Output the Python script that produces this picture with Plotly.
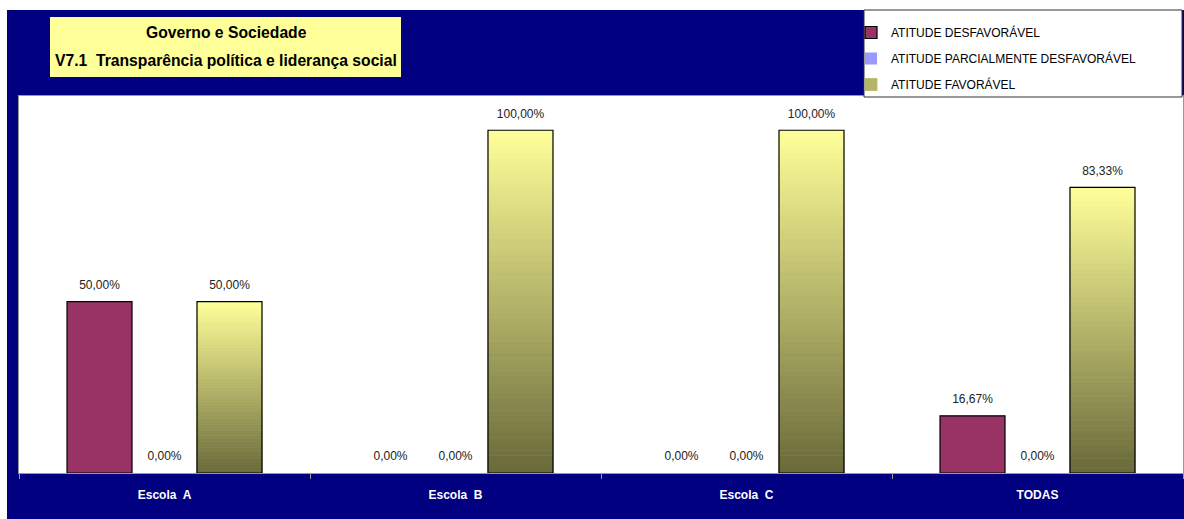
import plotly.graph_objects as go

categories = ["Escola  A", "Escola  B", "Escola  C", "TODAS"]
desfavoravel = [50.00, 0.00, 0.00, 16.67]
parcial = [0.00, 0.00, 0.00, 0.00]
favoravel = [50.00, 100.00, 100.00, 83.33]
series_names = ["ATITUDE DESFAVORÁVEL", "ATITUDE PARCIALMENTE DESFAVORÁVEL", "ATITUDE FAVORÁVEL"]
title_lines = ["Governo e Sociedade", "V7.1  Transparência política e liderança social"]

FONT = "Arial, Liberation Sans, sans-serif"
W, H = 1184, 519
ML, MR, MT, MB = 19, 1, 96, 46
PW, PH = W - ML - MR, H - MT - MB


def px_x(p):
    return (p - ML) / PW


def px_y(p):
    return (H - MB - p) / PH


def fmt(v):
    return f"{v:.2f}".replace(".", ",") + "%"


def edge(vals, w):
    return [w if v > 0 else 0 for v in vals]


LABEL_FONT = dict(family=FONT, size=12, color="#222222")

fig = go.Figure()

fig.add_trace(go.Bar(
    x=categories, y=desfavoravel, name=series_names[0], offsetgroup="a", legendgroup="g1",
    marker=dict(color="#993366", line=dict(color="#000000", width=edge(desfavoravel, 1.2))),
    legendrank=1, hoverinfo="x+y",
))
fig.add_trace(go.Bar(
    x=categories, y=parcial, name=series_names[1], offsetgroup="b", legendgroup="g2",
    marker=dict(color="#9999FF", line=dict(color="#000000", width=edge(parcial, 1.2))),
    legendrank=2, hoverinfo="x+y",
))

# gradient fill for favourable bars (light yellow top -> dark olive bottom)
N = 60
top_c = (255, 255, 153)
bot_c = (105, 105, 58)
for i in range(N):
    t = (i + 0.5) / N
    c = tuple(int(round(bot_c[k] + (top_c[k] - bot_c[k]) * t)) for k in range(3))
    col = f"rgb{c}"
    show = (i == N // 2)
    fig.add_trace(go.Bar(
        x=categories, y=[v / N for v in favoravel], base=[v * i / N for v in favoravel],
        offsetgroup="c", name=series_names[2], showlegend=show, legendrank=3, legendgroup="g3",
        marker=dict(color=col, line=dict(color=col, width=0.8)),
        hoverinfo="skip",
    ))
fig.add_trace(go.Bar(
    x=categories, y=favoravel, offsetgroup="c", showlegend=False, legendgroup="g3",
    marker=dict(color="rgba(0,0,0,0)", line=dict(color="#000000", width=edge(favoravel, 1.2))),
    hoverinfo="x+y",
))

# value labels (grouped scatter so they line up with the bars)
for vals, grp in [(desfavoravel, "a"), (parcial, "b"), (favoravel, "c")]:
    fig.add_trace(go.Scatter(
        x=categories, y=vals, offsetgroup=grp, mode="markers+text",
        marker=dict(size=14, color="rgba(0,0,0,0)"),
        text=[fmt(v) for v in vals], textposition="top center",
        textfont=LABEL_FONT, showlegend=False, cliponaxis=False, hoverinfo="skip",
    ))

shapes = [
    # white outer strips
    dict(type="rect", xref="paper", yref="paper", x0=px_x(-5), x1=px_x(W + 5), y0=px_y(10), y1=px_y(-5),
         fillcolor="white", line=dict(width=0), layer="below"),
    dict(type="rect", xref="paper", yref="paper", x0=px_x(-5), x1=px_x(7), y0=px_y(H + 5), y1=px_y(-5),
         fillcolor="white", line=dict(width=0), layer="below"),
    # title box
    dict(type="rect", xref="paper", yref="paper", x0=px_x(50), x1=px_x(401), y0=px_y(77), y1=px_y(17),
         fillcolor="#FFFF99", line=dict(width=0)),
    # legend box
    dict(type="rect", xref="paper", yref="paper", x0=px_x(864), x1=px_x(1182), y0=px_y(97), y1=px_y(10),
         fillcolor="white", line=dict(color="#333333", width=1)),
]

for line, yc in zip(title_lines, [33, 60]):
    fig.add_annotation(
        xref="paper", yref="paper", x=px_x(226), y=px_y(yc), xanchor="center", yanchor="middle",
        text="<b>" + line + "</b>", showarrow=False,
        font=dict(family=FONT, size=15.7, color="#000000"),
    )

fig.update_layout(
    width=W, height=H,
    margin=dict(l=ML, r=MR, t=MT, b=MB),
    paper_bgcolor="#000080", plot_bgcolor="white",
    barmode="group", bargap=0.33, bargroupgap=0,
    scattermode="group", scattergap=0.33,
    shapes=shapes,
    showlegend=True,
    legend=dict(
        x=px_x(851), y=px_y(18), xanchor="left", yanchor="top",
        bgcolor="rgba(0,0,0,0)", borderwidth=0,
        font=dict(family=FONT, size=12, color="#000000"),
        traceorder="grouped", itemwidth=30, tracegroupgap=7,
    ),
    xaxis=dict(
        showline=True, linecolor="#999999", linewidth=1, mirror=True,
        ticks="outside", tickson="boundaries", ticklen=5, tickcolor="#999999",
        tickfont=dict(family=FONT, size=12, color="white", weight="bold"),
        ticklabelstandoff=11, showgrid=False,
    ),
    yaxis=dict(
        range=[0, 110], showline=True, linecolor="#999999", linewidth=1, mirror=True,
        showticklabels=False, ticks="", showgrid=False, zeroline=False,
    ),
)

fig.write_html(
    "out.html",
    config={"displayModeBar": False},
    post_script="document.body.style.margin='0';document.body.style.overflow='hidden';"
                "document.documentElement.style.overflow='hidden';",
)
